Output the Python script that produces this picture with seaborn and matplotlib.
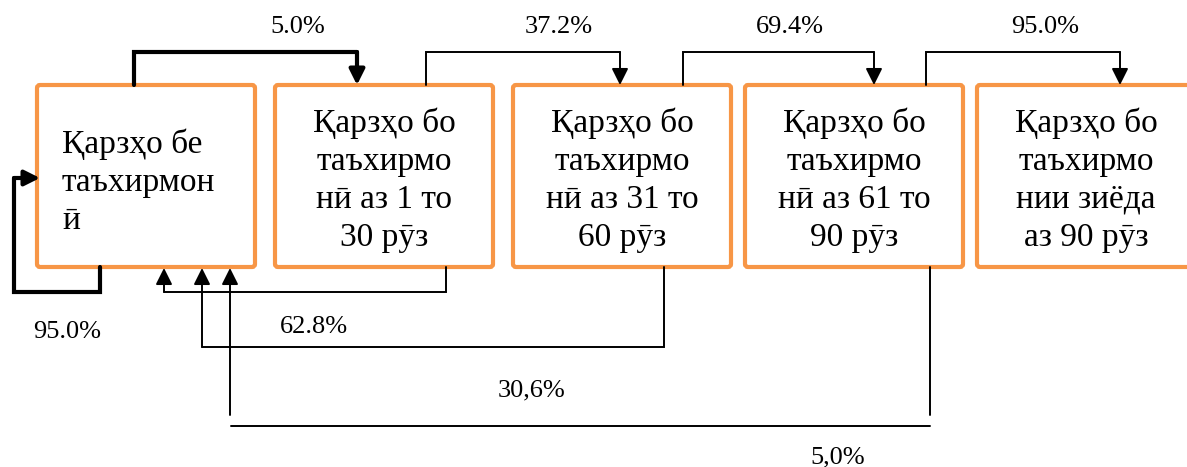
import numpy as np
import pandas as pd
import matplotlib.pyplot as plt
import seaborn as sns
from matplotlib.patches import FancyBboxPatch

# data
box_labels = ['Қарзҳо бе\nтаъхирмон\nӣ',
              'Қарзҳо бо\nтаъхирмо\nнӣ аз 1 то\n30 рӯз',
              'Қарзҳо бо\nтаъхирмо\nнӣ аз 31 то\n60 рӯз',
              'Қарзҳо бо\nтаъхирмо\nнӣ аз 61 то\n90 рӯз',
              'Қарзҳо бо\nтаъхирмо\nнии зиёда\nаз 90 рӯз']
forward_pct = ['5.0%', '37.2%', '69.4%', '95.0%']
return_pct = ['62.8%', '30,6%', '5,0%']
self_pct = '95.0%'

sns.set_theme(style='white')
plt.rcParams['font.family'] = ['Liberation Serif', 'DejaVu Serif']
plt.rcParams['text.color'] = 'black'

W, H = 1187, 467
fig = plt.figure(figsize=(W / 100, H / 100), dpi=100)
ax = fig.add_axes([0, 0, 1, 1])
ax.set_xlim(0, W)
ax.set_ylim(H, 0)
ax.axis('off')

orange = '#F79646'
box_left = [37, 275, 513, 745, 977]
box_w = 218
box_top, box_bot = 85, 267

for i, (x0, lab) in enumerate(zip(box_left, box_labels)):
    ax.add_patch(FancyBboxPatch((x0, box_top), box_w, box_bot - box_top,
                                boxstyle='round,pad=0,rounding_size=3',
                                fc='white', ec=orange, lw=3, zorder=2))
    if i == 0:
        ax.text(x0 + 25, 182, lab, ha='left', va='center',
                fontsize=24, linespacing=1.32, zorder=3)
    else:
        ax.text(x0 + box_w / 2, 180, lab, ha='center', va='center',
                fontsize=24, linespacing=1.32, zorder=3)


def connector(pts, lw, ms=25):
    xs = [p[0] for p in pts[:-1]]
    ys = [p[1] for p in pts[:-1]]
    if len(xs) > 1:
        sns.lineplot(x=xs, y=ys, sort=False, estimator=None, color='black',
                     lw=lw, ax=ax, solid_joinstyle='miter', zorder=4)
    ax.annotate('', xy=pts[-1], xytext=pts[-2],
                arrowprops=dict(arrowstyle='-|>', color='black', lw=lw,
                                mutation_scale=ms, shrinkA=0, shrinkB=0), zorder=4)


# forward transitions (top)
top_from = [134, 426, 683, 926]
top_to = [357, 620, 874, 1120]
top_lab_x = [298, 559, 790, 1045]
for k, (a, b, lx, lab) in enumerate(zip(top_from, top_to, top_lab_x, forward_pct)):
    if k == 0:
        connector([(a, box_top), (a, 52), (b, 52), (b, box_top)], 3, ms=23)
    else:
        connector([(a, box_top), (a, 52), (b, 52), (b, box_top)], 1.4)
    ax.text(lx, 27, lab, ha='center', va='center', fontsize=19)

# self loop
connector([(100, box_bot), (100, 292), (14, 292), (14, 178), (40, 178)], 3, ms=23)
ax.text(67, 332, self_pct, ha='center', va='center', fontsize=19)

# returns to current (bottom)
connector([(446, box_bot), (446, 292), (164, 292), (164, box_bot + 1)], 1.4)
connector([(664, box_bot), (664, 347), (202, 347), (202, box_bot + 1)], 1.4)
sns.lineplot(x=[930, 930], y=[box_bot, 415], sort=False, estimator=None,
             color='black', lw=1.4, ax=ax)
sns.lineplot(x=[930, 231], y=[426, 426], sort=False, estimator=None,
             color='black', lw=1.4, ax=ax)
connector([(230, 415), (230, box_bot + 1)], 1.4)

ret_lab_xy = [(314, 327), (532, 390), (838, 457)]
for (lx, ly), lab in zip(ret_lab_xy, return_pct):
    ax.text(lx, ly, lab, ha='center', va='center', fontsize=19)

fig.savefig('out.png', dpi=100)
plt.close()
